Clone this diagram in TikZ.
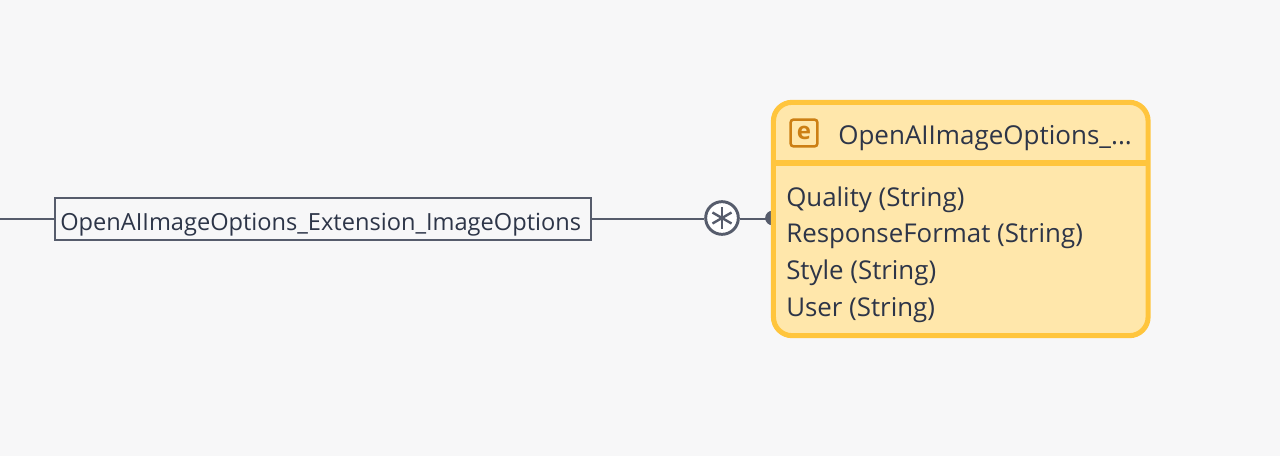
\documentclass[tikz,border=0pt]{standalone}
\usepackage{fontspec}
\setmainfont{Open Sans}
\usetikzlibrary{positioning,calc,backgrounds}
\definecolor{pagebg}{HTML}{F7F7F8}
\definecolor{edgegray}{HTML}{565C6C}
\definecolor{textdark}{HTML}{2D3548}
\definecolor{entfill}{HTML}{FFE7AB}
\definecolor{entline}{HTML}{FFC53D}
\definecolor{iconline}{HTML}{CC7F14}
\tikzset{
  er/line/.style={draw=edgegray, line width=1.8pt},
  er/rel/.style={draw=edgegray, line width=2.2pt, fill=pagebg, text=textdark, font=\fontsize{17.7}{20}\selectfont, text width=394pt, align=left, inner xsep=4pt, inner ysep=0pt, minimum height=31.5pt, text height=17pt, text depth=0.5pt},
  er/card/.style={circle, draw=edgegray, line width=2.2pt, fill=white, minimum size=24.5pt, inner sep=0pt},
  er/dot/.style={circle, fill=edgegray, minimum size=11pt, inner sep=0pt},
  er/entity/.style={draw=entline, line width=3.8pt, fill=entfill, rounded corners=14pt, minimum width=281pt, minimum height=175pt, inner sep=0pt},
  er/title/.style={text=textdark, font=\fontsize{19.5}{22}\selectfont, anchor=base west, inner sep=0pt},
  er/field/.style={text=textdark, font=\fontsize{19.4}{22}\selectfont, anchor=base west, inner sep=0pt},
  er/icon/.style={draw=iconline, line width=1.9pt, rounded corners=2pt, minimum size=20pt, inner sep=0pt, text=iconline, font=\bfseries\fontsize{18}{18}\selectfont}
}
\begin{document}
\begin{tikzpicture}[x=0.75pt, y=-0.75pt]
  \begin{scope}[on background layer]
    \fill[pagebg] (0,0) rectangle (1280,456);
  \end{scope}
  \useasboundingbox (0,0) rectangle (1280,456);
  \coordinate (start) at (0,218.7);
  \node[er/rel] (rel) at (323,219) {OpenAIImageOptions\_Extension\_ImageOptions};
  \node[er/card] (card) at (722,218) {};
  \node[er/dot] (dot) at (772.5,218) {};
  \node[er/entity] (options) at (960.75,219) {};
  \node[er/icon] (icon) at (804,133) {e};
  \node[er/title] (title) at (838,145) {OpenAIImageOptions\_...};
  \coordinate (divl) at (options.west |- 0,163);
  \coordinate (divr) at (options.east |- 0,163);
  \node[er/field] (quality) at (786,206) {Quality (String)};
  \node[er/field, below=0pt of quality.base west, anchor=base west, yshift=-27.6pt] (format) {ResponseFormat (String)};
  \node[er/field, below=0pt of format.base west, anchor=base west, yshift=-27.6pt] (style) {Style (String)};
  \node[er/field, below=0pt of style.base west, anchor=base west, yshift=-27.6pt] (user) {User (String)};

  \begin{scope}[on background layer]
    \draw[er/line] (start) -- (start -| rel.west);
    \draw[er/line] (start -| rel.east) -- (start -| card.west);
    \draw[er/line] (start -| card.east) -- (start -| dot.center);
  \end{scope}
  \draw[draw=entline, line width=3.8pt, shorten <=1.6pt, shorten >=1.6pt] (divl) -- (divr);
  \foreach \ang in {90,30,-30} {
    \draw[er/line] ($(card)+(\ang:11)$) -- ($(card)+(\ang+180:11)$);
  }
\end{tikzpicture}
\end{document}
